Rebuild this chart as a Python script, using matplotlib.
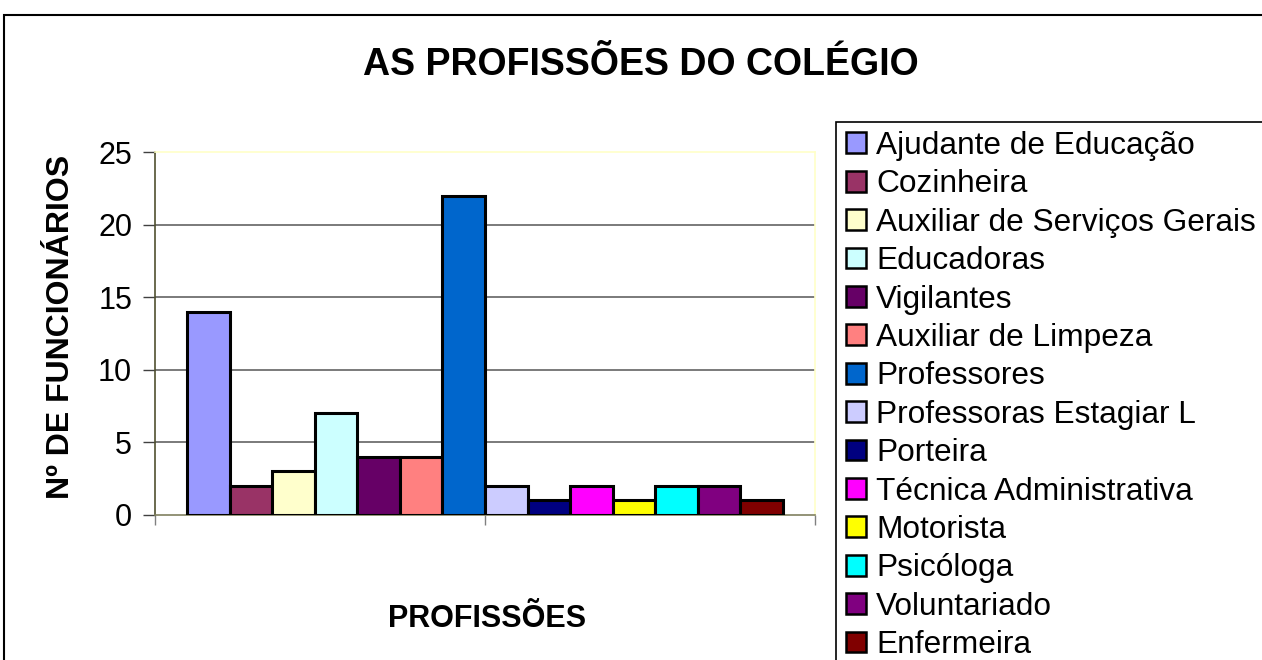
import matplotlib
matplotlib.use("Agg")
import matplotlib.pyplot as plt
from matplotlib.patches import Rectangle

categories = ["Ajudante de Educação", "Cozinheira", "Auxiliar de Serviços Gerais",
              "Educadoras", "Vigilantes", "Auxiliar de Limpeza", "Professores",
              "Professoras Estagiar L", "Porteira", "Técnica Administrativa",
              "Motorista", "Psicóloga", "Voluntariado", "Enfermeira"]
values = [14, 2, 3, 7, 4, 4, 22, 2, 1, 2, 1, 2, 2, 1]
colors = ["#9999FF", "#993366", "#FFFFCC", "#CCFFFF", "#660066", "#FF8080",
          "#0066CC", "#CCCCFF", "#000080", "#FF00FF", "#FFFF00", "#00FFFF",
          "#800080", "#800000"]
yticks = [0, 5, 10, 15, 20, 25]

plt.rcParams['font.family'] = ['Liberation Sans', 'DejaVu Sans']

W, H = 1262, 660
fig = plt.figure(figsize=(W / 100, H / 100), dpi=100)
fig.patch.set_facecolor("white")

# outer chart frame (extends beyond right/bottom)
fig.patches.append(Rectangle((4 / W, -0.1), 1.2, 1 - 15 / H + 0.1,
                             transform=fig.transFigure, fill=False,
                             edgecolor="black", linewidth=1.5))

ax = fig.add_axes([155 / W, 1 - 515 / H, 660 / W, (515 - 152) / H])
handles = []
for i, (c, v, col) in enumerate(zip(categories, values, colors)):
    h = ax.bar(i, v, width=1.0, color=col, edgecolor="black", linewidth=2.2,
               label=c, zorder=3)
    handles.append(h)

ax.set_xlim(-1.25, 14.25)
ax.set_ylim(0, 25)
ax.set_yticks(yticks)
ax.set_xticks([-1.25, 6.5, 14.25])
ax.set_xticklabels([])
ax.tick_params(axis="y", length=8.5, width=1.0, color="#404040", labelsize=22,
               pad=8)
ax.tick_params(axis="x", length=7.2, width=1.0, color="#808080", direction="out")
for y in yticks[1:-1]:
    ax.axhline(y, color="#707070", linewidth=1.3, zorder=1)
ax.spines["left"].set_color("#505030")
ax.spines["bottom"].set_color("#808060")
ax.spines["top"].set_color("#FFFFC8")
ax.spines["right"].set_color("#FFFFC8")
for s in ax.spines.values():
    s.set_linewidth(1.2)

fig.text(641 / W, 1 - 65 / H, "AS PROFISSÕES DO COLÉGIO", ha="center",
         va="center", fontsize=27, fontweight="bold")
fig.text(61 / W, 1 - 327 / H, "Nº DE FUNCIONÁRIOS", ha="center", va="center",
         rotation=90, fontsize=23, fontweight="bold")
fig.text(487 / W, 1 - 619 / H, "PROFISSÕES", ha="center", va="center",
         fontsize=22, fontweight="bold")

# legend frame (cut by figure edges)
fig.patches.append(Rectangle((836 / W, -0.1), 1.0, 1 - 122 / H + 0.1,
                             transform=fig.transFigure, fill=False,
                             edgecolor="black", linewidth=1.2))
leg = fig.legend(handles=handles, labels=categories, loc="upper left",
                 bbox_to_anchor=(846 / W, 1 - 131 / H), frameon=False,
                 fontsize=22.8, handlelength=0.63, handleheight=0.63,
                 handletextpad=0.32, labelspacing=0.265, borderpad=0,
                 borderaxespad=0)
for p in leg.get_patches():
    p.set_linewidth(1.8)

fig.savefig("out.png", dpi=100)
